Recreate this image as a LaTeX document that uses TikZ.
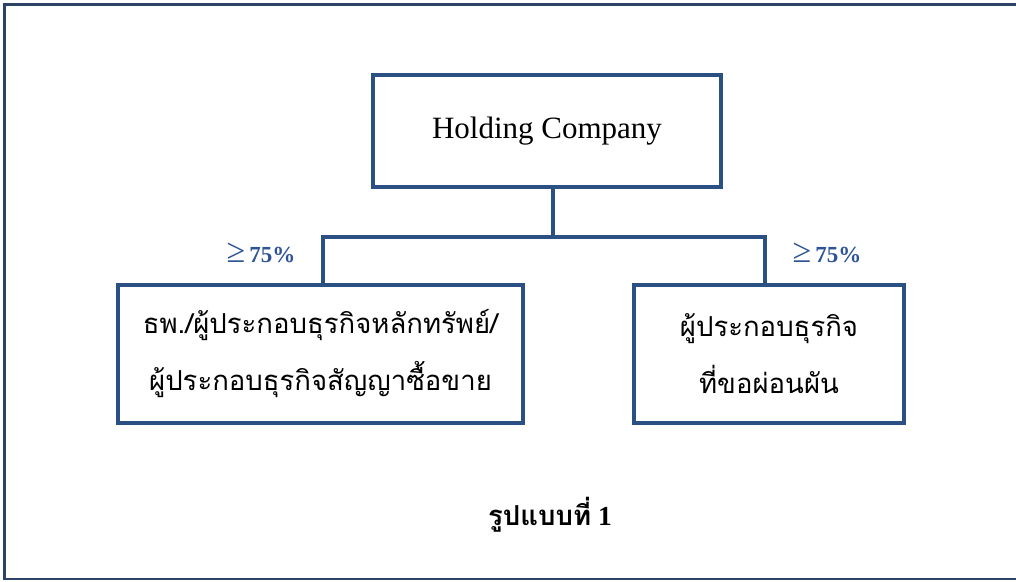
\documentclass[tikz,border=0pt]{standalone}
\usepackage{fontspec}
\setmainfont{Liberation Serif}
\newfontfamily\thaifont[Script=Thai]{Loma}
\usetikzlibrary{positioning}
\usetikzlibrary{calc}

\definecolor{boxblue}{RGB}{42,80,132}
\definecolor{frameblue}{RGB}{45,68,102}
\definecolor{pctblue}{RGB}{46,84,150}

\tikzset{
  orgbox/.style={draw=boxblue, line width=4pt, align=center, inner sep=0pt},
  link/.style={draw=boxblue, line width=4pt, line join=miter},
  share/.style={text=pctblue, inner sep=0pt},
  thaitext/.style={font=\thaifont\fontsize{27.5}{57}\selectfont}
}

\begin{document}
\begin{tikzpicture}[x=1pt, y=-1pt]
  \useasboundingbox (0,0) rectangle (1016,581);

  % Frame
  \draw[frameblue, line width=2.7pt] (1030,4.5) -- (4.5,4.5) -- (4.5,579) -- (1030,579);

  % Boxes
  \node[orgbox, minimum width=348pt, minimum height=112pt,
        font=\fontsize{31}{36}\selectfont] (hc) at (547,131) {Holding Company};
  \node[orgbox, thaitext, minimum width=405pt, minimum height=138pt] (bank) at (320.5,354)
    {ธพ./ผู้ประกอบธุรกิจหลักทรัพย์/\\ผู้ประกอบธุรกิจสัญญาซื้อขาย};
  \node[orgbox, thaitext, minimum width=270pt, minimum height=138pt] (dealer) at (769,354)
    {ผู้ประกอบธุรกิจ\\ที่ขอผ่อนผัน};

  % Connectors
  \coordinate (split) at (553,237);
  \coordinate (lb) at (323,237);
  \coordinate (rb) at (765,237);
  \draw[link] (split |- hc.south) -- (split);
  \draw[link] (lb |- bank.north) -- (lb) -- (rb) -- (rb |- dealer.north);

  % Shares
  \node[share, anchor=base] (lshare) at (261,262)
    {{\fontsize{34}{34}\selectfont ≥}\hspace{4pt}{\bfseries\fontsize{23}{28}\selectfont 75\%}};
  \node[share, anchor=base] (rshare) at (827,262)
    {{\fontsize{34}{34}\selectfont ≥}\hspace{4pt}{\bfseries\fontsize{23}{28}\selectfont 75\%}};

  % Title
  \node[anchor=base, font=\bfseries\fontsize{27.5}{30}\selectfont] (title) at (550,525)
    {{\thaifont รูปแบบที่} 1};
\end{tikzpicture}
\end{document}
